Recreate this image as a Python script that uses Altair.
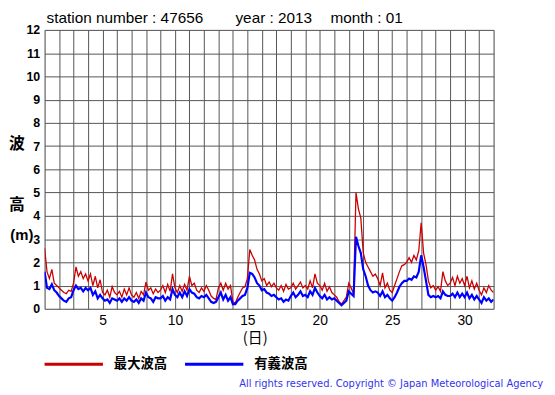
import altair as alt
import pandas as pd

# 4-hourly readings (00,04,08,12,16,20h) for each day of January 2013, plus Feb 1 00h
max_wave = [
    2.6, 1.6, 1.3, 1.7, 1.1, 1.0,
    0.9, 0.8, 0.7, 0.65, 0.8, 0.75,
    1.1, 1.8, 1.4, 1.6, 1.3, 1.5,
    1.2, 1.5, 1.0, 1.4, 0.9, 1.25,
    0.7, 0.6, 0.8, 0.5, 0.95, 0.7,
    0.6, 0.75, 0.5, 0.85, 0.6, 0.9,
    0.6, 0.5, 0.7, 0.45, 0.75, 0.6,
    1.15, 0.8, 0.9, 0.65, 0.85, 0.7,
    0.8, 1.0, 0.7, 1.05, 0.75, 1.5,
    0.9, 0.7, 1.0, 0.75, 1.05, 0.8,
    1.4, 1.0, 1.1, 0.8, 0.7, 0.9,
    0.75, 1.0, 0.8, 0.55, 0.45, 0.4,
    0.9, 1.1, 0.8, 1.1, 0.85, 1.0,
    0.3, 0.25, 0.5, 0.7, 0.9, 0.95,
    1.3, 2.55, 2.3, 2.1, 1.7, 1.5,
    1.2, 1.3, 1.0, 1.15, 0.95, 1.1,
    0.9, 0.8, 1.0, 0.75, 1.05, 0.85,
    0.9, 1.1, 0.85, 1.0, 1.15, 0.9,
    1.0, 0.85, 1.2, 0.9, 1.5, 1.1,
    1.0, 0.8, 1.1, 0.75, 0.95, 0.7,
    0.6, 0.5, 0.3, 0.2, 0.35, 0.5,
    1.1, 0.9, 0.65, 5.0, 4.3, 3.9,
    2.4, 2.0, 1.8, 1.6, 1.4, 1.5,
    1.3, 1.0, 1.55, 0.9, 1.1, 0.8,
    0.7, 1.0, 1.3, 1.6, 1.85, 1.9,
    2.0, 2.2, 2.0, 2.3, 2.1, 2.5,
    3.7, 2.4, 1.9, 1.2, 0.9, 1.0,
    0.8, 0.95, 0.75, 1.6, 1.2, 1.0,
    1.1, 1.35, 1.0, 1.4, 1.1, 1.3,
    1.0, 1.4, 0.9, 1.2, 0.85, 1.1,
    0.8, 0.6, 0.9, 0.7, 1.0, 0.8,
    0.7,
]
sig_wave = [
    1.6, 0.9, 0.85, 1.05, 0.8, 0.7,
    0.55, 0.45, 0.35, 0.3, 0.45, 0.5,
    0.8, 1.0, 0.85, 0.9, 0.75, 0.9,
    0.8, 0.9, 0.6, 0.75, 0.45, 0.6,
    0.45, 0.35, 0.4, 0.25, 0.45, 0.4,
    0.35, 0.45, 0.3, 0.45, 0.35, 0.5,
    0.35, 0.3, 0.4, 0.25, 0.45, 0.35,
    0.7, 0.5, 0.45, 0.3, 0.5, 0.45,
    0.45, 0.55, 0.35, 0.5, 0.4, 0.85,
    0.6, 0.5, 0.7, 0.5, 0.75, 0.55,
    0.85, 0.7, 0.65, 0.5, 0.45, 0.55,
    0.5, 0.6, 0.45, 0.3, 0.25, 0.3,
    0.5, 0.7, 0.4, 0.6, 0.35, 0.5,
    0.2, 0.2, 0.35, 0.45, 0.55, 0.6,
    0.9, 1.55, 1.5, 1.35, 1.1, 1.0,
    0.8, 0.85, 0.7, 0.65, 0.55, 0.6,
    0.5, 0.4, 0.45, 0.3, 0.4, 0.35,
    0.55, 0.7, 0.5, 0.6, 0.75, 0.55,
    0.6, 0.5, 0.75, 0.6, 0.9, 0.7,
    0.55, 0.45, 0.6, 0.4, 0.5, 0.4,
    0.45, 0.35, 0.25, 0.15, 0.25, 0.35,
    0.75, 0.65, 0.55, 3.1, 2.7, 2.4,
    1.7, 1.4, 1.0, 0.8, 0.7, 0.75,
    0.7, 0.55, 0.75, 0.5, 0.6, 0.45,
    0.35, 0.5, 0.7, 0.95, 1.1, 1.2,
    1.2, 1.3, 1.25, 1.4, 1.35, 1.6,
    2.3, 1.8, 1.2, 0.6, 0.5, 0.55,
    0.5, 0.55, 0.45, 0.75, 0.6, 0.55,
    0.55, 0.65, 0.5, 0.7, 0.5, 0.65,
    0.5, 0.7, 0.45, 0.6, 0.4, 0.55,
    0.4, 0.25, 0.5, 0.35, 0.45, 0.3,
    0.4,
]
series_names = ["最大波高", "有義波高"]
series_colors = ["#CC0000", "#0000FF"]
x_ticks = list(range(1, 33))
y_ticks = list(range(0, 13))

step = 4 / 24
rows = []
for name, vals in zip(series_names, [max_wave, sig_wave]):
    for i, v in enumerate(vals):
        rows.append({"t": 1 + i * step, "v": v, "s": name})
df = pd.DataFrame(rows)

W, H = 454, 282
JP = "Noto Sans CJK JP"
LAT = "Liberation Sans"

lines = alt.Chart(df).mark_line(clip=True).encode(
    x=alt.X("t:Q",
            scale=alt.Scale(domain=[1, 32], nice=False, zero=False),
            axis=alt.Axis(values=x_ticks, labelExpr="datum.value % 5 == 0 ? datum.value : ''",
                          grid=True, gridColor="#555555", gridWidth=1, domain=False, ticks=False,
                          labelFontSize=14, labelFont=LAT, labelColor="black", labelPadding=5,
                          labelOverlap=False, labelFlush=False, title=None)),
    y=alt.Y("v:Q",
            scale=alt.Scale(domain=[0, 12], nice=False),
            axis=alt.Axis(values=y_ticks, grid=True, gridColor="#555555", gridWidth=1,
                          domain=False, ticks=False, labelFontSize=12.5, labelFontWeight="bold",
                          labelFont=LAT, labelColor="black", labelPadding=5, title=None)),
    color=alt.Color("s:N", scale=alt.Scale(domain=series_names, range=series_colors), legend=None),
    strokeWidth=alt.StrokeWidth("s:N", scale=alt.Scale(domain=series_names, range=[1.3, 2.2]), legend=None),
)

one = pd.DataFrame({"k": [0]})

def txt(s, x, y, size, weight="normal", font=LAT, color="black", align="left"):
    return alt.Chart(one).mark_text(text=s, fontSize=size, fontWeight=weight, font=font,
                                    color=color, align=align, baseline="middle").encode(
        x=alt.value(x), y=alt.value(y))

def leg_line(x1, x2, y, color):
    return alt.Chart(one).mark_rule(color=color, strokeWidth=3).encode(
        x=alt.value(x1), x2=alt.value(x2), y=alt.value(y))

ox, oy = 45, 28  # plot origin on page
layers = [
    lines,
    txt("station number : 47656", 47 - ox, 16 - oy, 15.5),
    txt("year : 2013", 238 - ox, 16 - oy, 15.5),
    txt("month : 01", 334 - ox, 16 - oy, 15.5),
    txt("波", 17 - ox, 143 - oy, 16, "bold", JP, align="center"),
    txt("高", 17 - ox, 205 - oy, 16, "bold", JP, align="center"),
    txt("(m)", 22 - ox, 235 - oy, 15, "bold", LAT, align="center"),
    txt("(日)", 258 - ox, 340 - oy, 15, "normal", JP, align="center"),
    leg_line(45 - ox, 104 - ox, 366 - oy, "#CC0000"),
    txt("最大波高", 115 - ox, 366 - oy, 13.5, "bold", JP),
    leg_line(187 - ox, 246 - ox, 366 - oy, "#0000FF"),
    txt("有義波高", 257 - ox, 366 - oy, 13.5, "bold", JP),
    txt("All rights reserved. Copyright © Japan Meteorological Agency", 549 - ox, 386 - oy,
        10, "normal", "DejaVu Sans", "#3333EE", align="right"),
]

chart = alt.layer(*layers).properties(
    width=W, height=H,
    autosize=alt.AutoSizeParams(type="none"),
    padding={"left": 37, "top": 20, "right": 54, "bottom": 84},
).configure_view(stroke="black", strokeWidth=1.5).configure(background="white")

chart.save("out.html", embed_options={"renderer": "svg", "actions": False})
